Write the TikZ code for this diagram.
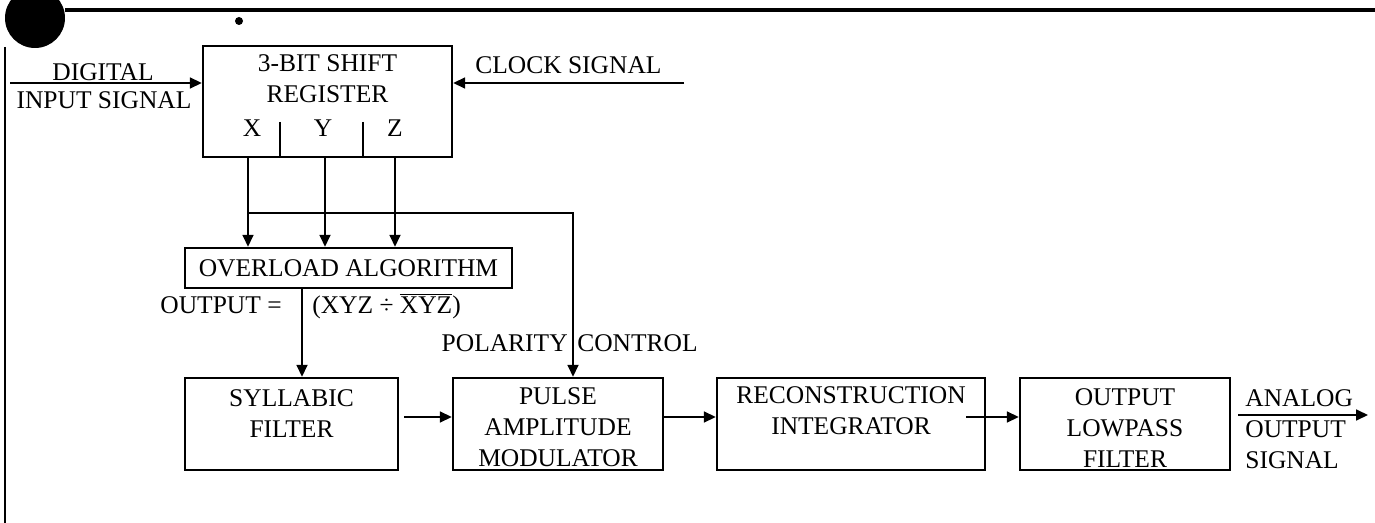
\documentclass[tikz,border=0pt]{standalone}
\usepackage{fontspec}
\setmainfont{Liberation Serif}
\usepackage{tikz}
\usetikzlibrary{arrows.meta,positioning}
\newcommand{\diagfont}{\fontsize{14.5}{17.6}\selectfont}
\tikzset{
  block/.style={draw,line width=1.4pt,inner sep=0pt,font=\diagfont},
  caption/.style={inner sep=0pt,align=center,font=\diagfont},
  arrow/.style={-{Triangle[length=2.4mm,width=2.2mm]},line width=1pt},
  frame/.style={line width=1.8pt}
}

\begin{document}
\begin{tikzpicture}[x=0.02cm,y=-0.02cm]
        \useasboundingbox (0,0) rectangle (1375,523);
        \fill (35,18) circle [radius=0.6cm];
        \fill (239,21) circle [radius=0.08cm];
        \draw[frame] (65,10) -- (1375,10);
        \draw[frame,line width=1.2pt] (5,47) -- (5,523);

        \node[block,minimum width=4.98cm,minimum height=2.22cm] (sreg) at (327.5,101.5) {};
        \node[caption] (sreg-t) at (327.5,78.5) {3-BIT SHIFT\\REGISTER};
        \node[caption] (bitx) at (252,128) {X};
        \node[caption] (bity) at (323,128) {Y};
        \node[caption] (bitz) at (395,128) {Z};
        \draw[line width=1.4pt] (280,122) -- (280,157) (363,122) -- (363,157);

        \node[block,minimum width=6.54cm,minimum height=0.8cm] (overload) at (348.5,268) {OVERLOAD ALGORITHM};

        \node[block,minimum width=4.26cm,minimum height=1.84cm] (syllabic) at (291.5,424) {};
        \node[caption] (syllabic-t) at (291.5,414) {SYLLABIC\\FILTER};
        \node[block,minimum width=4.2cm,minimum height=1.84cm] (pam) at (558,424) {};
        \node[caption] (pam-t) at (558,427.5) {PULSE\\AMPLITUDE\\MODULATOR};
        \node[block,minimum width=5.36cm,minimum height=1.84cm] (recon) at (851,424) {};
        \node[caption] (recon-t) at (851,411) {RECONSTRUCTION\\INTEGRATOR};
        \node[block,minimum width=4.2cm,minimum height=1.84cm] (lowpass) at (1125,424) {};
        \node[caption] (lowpass-t) at (1125,428) {OUTPUT\\LOWPASS\\FILTER};

        \coordinate (din) at (10,83);
        \coordinate (clk) at (684,83);
        \node[caption] (din-a) at (103,72) {DIGITAL};
        \node[caption] (din-b) at (104,100) {INPUT SIGNAL};
        \node[caption,anchor=west] (clk-t) at (475,65) {CLOCK SIGNAL};
        \draw[arrow] (din) -- (sreg.west |- din);
        \draw[arrow] (clk) -- (sreg.east |- clk);

        \coordinate (tapx) at (248,213);
        \coordinate (tapy) at (325,0);
        \coordinate (tapz) at (395,0);
        \coordinate (polx) at (573,0);
        \coordinate (outx) at (302,0);
        \draw[arrow] (sreg.south -| tapx) -- (overload.north -| tapx);
        \draw[arrow] (sreg.south -| tapy) -- (overload.north -| tapy);
        \draw[arrow] (sreg.south -| tapz) -- (overload.north -| tapz);
        \draw[arrow] (tapx) -| (pam.north -| polx);
        \draw[arrow] (overload.south -| outx) -- (syllabic.north -| outx);

        \node[caption,anchor=east] (rule-l) at (282,305) {OUTPUT =};
        \node[caption,base right=0.6cm of rule-l] (rule-r) {(XYZ ÷ \(\overline{\hbox{XYZ}}\))};
        \node[caption,anchor=east] (polarity) at (568,343) {POLARITY};
        \node[caption,base right=0.18cm of polarity] (control) {CONTROL};

        \coordinate (row) at (0,417);
        \coordinate (aout) at (1368,415);
        \draw[arrow,shorten <=0.1cm] (syllabic.east |- row) -- (pam.west |- row);
        \draw[arrow] (pam.east |- row) -- (recon.west |- row);
        \draw[arrow] (recon-t.east |- row) -- (lowpass.west |- row);
        \draw[arrow,shorten <=0.14cm] (lowpass.east |- aout) -- (aout);
        \node[caption,align=left,anchor=west] (aout-t) at (1245,429) {ANALOG\\OUTPUT\\SIGNAL};
\end{tikzpicture}
\end{document}
